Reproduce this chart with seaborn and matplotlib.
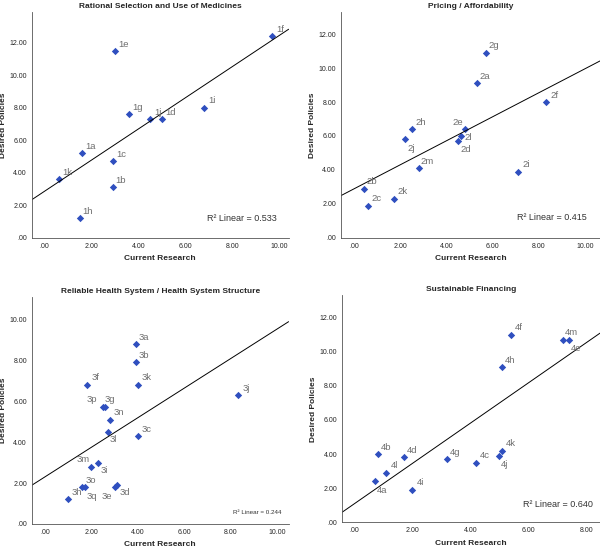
"""
Scatter plots of desired policies vs current research, one panel per theme,
with a linear fit line and R^2 annotation (SPSS-style look).
"""

import matplotlib
matplotlib.use("Agg")
import matplotlib.pyplot as plt
from matplotlib.ticker import FuncFormatter
import seaborn as sns

# --- data ------------------------------------------------------------------
rational_labels = ['1a', '1b', '1c', '1d', '1e', '1f', '1g', '1h', '1i', '1j', '1k']
rational_research = [1.6, 2.9, 2.9, 5.0, 3.0, 9.7, 3.6, 1.5, 6.8, 4.5, 0.6]
rational_policies = [5.2, 3.1, 4.7, 7.3, 11.5, 12.4, 7.6, 1.2, 8.0, 7.3, 3.6]

pricing_labels = ['2a', '2b', '2c', '2d', '2e', '2f', '2g', '2h', '2i', '2j', '2k', '2l', '2m']
pricing_research = [5.3, 0.4, 0.6, 4.5, 4.8, 8.3, 5.7, 2.5, 7.1, 2.2, 1.7, 4.6, 2.8]
pricing_policies = [9.1, 2.9, 1.9, 5.7, 6.4, 8.0, 10.9, 6.4, 3.9, 5.8, 2.3, 6.0, 4.1]

health_labels = ['3a', '3b', '3c', '3d', '3e', '3f', '3g', '3h', '3i', '3j', '3k',
                 '3l', '3m', '3n', '3o', '3p', '3q']
health_research = [3.9, 3.9, 4.0, 3.1, 3.0, 1.8, 2.6, 1.0, 2.3, 8.3, 4.0,
                   2.7, 2.0, 2.8, 1.6, 2.5, 1.7]
health_policies = [8.8, 7.9, 4.3, 1.9, 1.8, 6.8, 5.7, 1.2, 3.0, 6.3, 6.8,
                   4.5, 2.8, 5.1, 1.8, 5.7, 1.8]

financing_labels = ['4a', '4b', '4c', '4d', '4e', '4f', '4g', '4h', '4i', '4j', '4k', '4l', '4m']
financing_research = [0.7, 0.8, 4.2, 1.7, 7.4, 5.4, 3.2, 5.1, 2.0, 5.0, 5.1, 1.1, 7.2]
financing_policies = [2.4, 4.0, 3.5, 3.8, 10.7, 11.0, 3.7, 9.1, 1.9, 3.9, 4.2, 2.9, 10.7]

titles = ['Rational Selection and Use of Medicines', 'Pricing / Affordability',
          'Reliable Health System / Health System Structure', 'Sustainable Financing']
r2_texts = ['R\u00b2 Linear = 0.533', 'R\u00b2 Linear = 0.415',
            'R\u00b2 Linear = 0.244', 'R\u00b2 Linear = 0.640']

# label offsets (points) that differ from the default up-right placement
DEFAULT_OFFSET = (6, 5)
label_offsets = {
    '2e': (-5, 5), '2l': (5.5, -1), '2j': (4, -6.5), '2d': (5.5, -6),
    '3p': (-8, 5.5), '3g': (3.4, 5.5), '3l': (4.3, -5.5), '3m': (-6, 5),
    '3i': (4.3, -5.5), '3q': (5.3, -6.5), '3e': (-5.3, -6.5), '3d': (5.5, -5.5),
    '4e': (5, -6.3), '4j': (4, -6.3), '4a': (5.3, -6.7),
}

MARKER_COLOR = '#2f4fbf'
LABEL_COLOR = '#6e6e6e'


def spss_fmt(v, pos):
    s = f"{v:.2f}"
    return s[1:] if s.startswith('0') else s


def draw_panel(ax, x, y, labels, title, r2, xlim, ylim, xticks, yticks, r2_pos, r2_size):
    """One scatter panel with fit line across the whole x range."""
    ax.set_xlim(*xlim)
    ax.set_ylim(*ylim)
    sns.regplot(x=x, y=y, ax=ax, ci=None, truncate=False, marker='D',
                scatter_kws={'s': 14, 'color': MARKER_COLOR, 'alpha': 1, 'linewidths': 0},
                line_kws={'color': 'black', 'linewidth': 0.7})
    for lab, xi, yi in zip(labels, x, y):
        dx, dy = label_offsets.get(lab, DEFAULT_OFFSET)
        ax.annotate(lab, (xi, yi), xytext=(dx, dy), textcoords='offset points',
                    ha='center', va='center', fontsize=6.8, color=LABEL_COLOR)

    ax.text(r2_pos[0], r2_pos[1], r2, transform=ax.transAxes, ha='right',
            va='center', fontsize=r2_size, color='#333333')

    ax.set_xticks(xticks)
    ax.set_yticks(yticks)
    ax.xaxis.set_major_formatter(FuncFormatter(spss_fmt))
    ax.yaxis.set_major_formatter(FuncFormatter(spss_fmt))
    ax.tick_params(axis='both', labelsize=5, length=2, width=0.6,
                   color='#555555', pad=1.5)
    for side in ['top', 'right']:
        ax.spines[side].set_visible(False)
    for side in ['left', 'bottom']:
        ax.spines[side].set_color('#555555')
        ax.spines[side].set_linewidth(0.6)

    ax.set_xlabel('Current Research', fontsize=6, fontweight='bold', labelpad=4)
    ax.set_ylabel('Desired Policies', fontsize=6, fontweight='bold', labelpad=2)
    ax.set_title(title, fontsize=6, fontweight='bold', pad=3)


def main(output_path='out.png'):
    sns.set_style('white')
    plt.rcParams['font.family'] = ['Liberation Sans', 'DejaVu Sans']

    fig = plt.figure(figsize=(6.0, 5.48), dpi=100)
    axes = [
        fig.add_axes([0.053, 0.566, 0.428, 0.412]),
        fig.add_axes([0.568, 0.566, 0.432, 0.412]),
        fig.add_axes([0.053, 0.044, 0.428, 0.414]),
        fig.add_axes([0.570, 0.047, 0.430, 0.414]),
    ]

    draw_panel(axes[0], rational_research, rational_policies, rational_labels,
               titles[0], r2_texts[0], (-0.54, 10.4), (0, 13.9),
               [0, 2, 4, 6, 8, 10], [0, 2, 4, 6, 8, 10, 12], (0.953, 0.084), 6.5)
    draw_panel(axes[1], pricing_research, pricing_policies, pricing_labels,
               titles[1], r2_texts[1], (-0.6, 10.65), (0, 13.3),
               [0, 2, 4, 6, 8, 10], [0, 2, 4, 6, 8, 10, 12], (0.95, 0.088), 6.5)
    draw_panel(axes[2], health_research, health_policies, health_labels,
               titles[2], r2_texts[2], (-0.57, 10.49), (0, 11.1),
               [0, 2, 4, 6, 8, 10], [0, 2, 4, 6, 8, 10], (0.973, 0.048), 4.5)
    draw_panel(axes[3], financing_research, financing_policies, financing_labels,
               titles[3], r2_texts[3], (-0.43, 8.48), (0, 13.3),
               [0, 2, 4, 6, 8], [0, 2, 4, 6, 8, 10, 12], (0.973, 0.079), 6.5)

    fig.savefig(output_path, dpi=100)
    plt.close(fig)


if __name__ == "__main__":
    main()
